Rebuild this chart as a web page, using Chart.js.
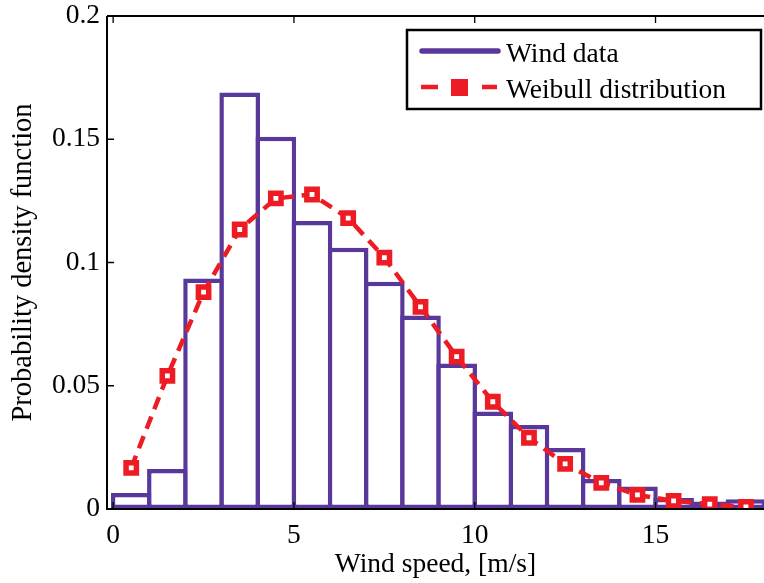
<!DOCTYPE html>
<html>
<head>
<meta charset="utf-8">
<script src="https://cdn.jsdelivr.net/npm/chart.js@4.4.0/dist/chart.umd.min.js"></script>
<style>
  html, body { margin: 0; padding: 0; background: #fff; overflow: hidden; }
  #wrap { width: 764px; height: 583px; position: relative; }
</style>
</head>
<body>
<div id="wrap"><canvas id="chart"></canvas></div>
<script>
'use strict';

// bin centres of the histogram, [m/s]
let binCentres = [0.5, 1.5, 2.5, 3.5, 4.5, 5.5, 6.5, 7.5, 8.5, 9.5, 10.5, 11.5, 12.5, 13.5, 14.5, 15.5, 16.5, 17.5];
// measured wind data (histogram heights)
let windData = [0.0065, 0.0162, 0.0935, 0.169, 0.151, 0.1168, 0.106, 0.0922, 0.0785, 0.059, 0.0396, 0.0341, 0.0247, 0.0122, 0.0091, 0.0045, 0.003, 0.004];
// fitted weibull pdf at the bin centres
let weibullData = [0.0167, 0.054, 0.088, 0.1134, 0.126, 0.1276, 0.118, 0.102, 0.082, 0.0618, 0.0435, 0.0289, 0.0183, 0.0106, 0.0057, 0.0033, 0.002, 0.0008];

let xTicks = [0, 5, 10, 15];
let yTicks = [0, 0.05, 0.1, 0.15, 0.2];

let purple = '#58389a';
let red = '#ed1c24';
let serif = "'Liberation Serif', 'Times New Roman', serif";

Chart.defaults.font.family = serif;
Chart.defaults.color = '#000';

// axes box, inward ticks and the boxed legend (matlab look)
let matlabFrame = {
  id: 'matlabFrame',
  afterDatasetsDraw(chart) {
    let ctx = chart.ctx;
    let a = chart.chartArea;
    let xs = chart.scales.x;
    let ys = chart.scales.y;
    ctx.save();
    ctx.strokeStyle = '#000';
    ctx.lineWidth = 2;
    ctx.beginPath();
    ctx.moveTo(a.left, a.top);
    ctx.lineTo(a.right, a.top);
    ctx.moveTo(a.left, a.top);
    ctx.lineTo(a.left, a.bottom);
    ctx.lineTo(a.right, a.bottom);
    ctx.stroke();

    ctx.lineWidth = 1.3;
    ctx.beginPath();
    xTicks.forEach(function(v) {
      let px = xs.getPixelForValue(v);
      ctx.moveTo(px, a.top);
      ctx.lineTo(px, a.top + 7);
      ctx.moveTo(px, a.bottom);
      ctx.lineTo(px, a.bottom - 7);
    });
    yTicks.forEach(function(v) {
      let py = ys.getPixelForValue(v);
      ctx.moveTo(a.left, py);
      ctx.lineTo(a.left + 7, py);
    });
    ctx.stroke();

    // legend
    let bw = 354, bh = 79;
    let bx = a.right - 3 - bw;
    let by = a.top + 14;
    ctx.fillStyle = '#fff';
    ctx.fillRect(bx, by, bw, bh);
    ctx.lineWidth = 2.5;
    ctx.strokeStyle = '#000';
    ctx.strokeRect(bx, by, bw, bh);

    ctx.lineCap = 'round';
    ctx.strokeStyle = purple;
    ctx.lineWidth = 5.5;
    ctx.beginPath();
    ctx.moveTo(bx + 15, by + 21);
    ctx.lineTo(bx + 91, by + 21);
    ctx.stroke();

    ctx.lineCap = 'butt';
    ctx.strokeStyle = red;
    ctx.lineWidth = 4.5;
    ctx.beginPath();
    ctx.moveTo(bx + 14, by + 57);
    ctx.lineTo(bx + 31, by + 57);
    ctx.moveTo(bx + 75, by + 57);
    ctx.lineTo(bx + 90, by + 57);
    ctx.stroke();
    ctx.fillStyle = red;
    ctx.fillRect(bx + 44, by + 49, 17, 17);

    ctx.fillStyle = '#000';
    ctx.font = '27.5px ' + serif;
    ctx.textBaseline = 'alphabetic';
    ctx.textAlign = 'left';
    ctx.fillText('Wind data', bx + 99, by + 32);
    ctx.fillText('Weibull distribution', bx + 99, by + 68);
    ctx.restore();
  }
};

let chartObj = {
  type: 'bar',
  data: {
    datasets: [
      {
        type: 'line',
        label: 'Weibull distribution',
        data: binCentres.map(function(x, i) { return {x: x, y: weibullData[i]}; }),
        borderColor: red,
        borderWidth: 4.5,
        borderDash: [13, 8],
        pointStyle: 'rect',
        pointRadius: 7.3,
        pointBorderWidth: 5.5,
        pointBorderColor: red,
        pointBackgroundColor: '#fff',
        tension: 0,
        fill: false,
        order: 0
      },
      {
        label: 'Wind data',
        data: binCentres.map(function(x, i) { return {x: x, y: windData[i]}; }),
        backgroundColor: '#fff',
        borderColor: purple,
        borderWidth: 4.5,
        borderSkipped: false,
        categoryPercentage: 1,
        barPercentage: 1.124,
        order: 1
      }
    ]
  },
  options: {
    responsive: true,
    maintainAspectRatio: false,
    animation: false,
    layout: { autoPadding: false, padding: { left: 0, right: 0, top: 16, bottom: 0 } },
    plugins: {
      legend: { display: false },
      tooltip: { enabled: false }
    },
    scales: {
      x: {
        type: 'linear',
        offset: false,
        min: -0.17,
        max: 18,
        grid: { display: false, drawTicks: false },
        border: { display: false },
        afterBuildTicks: function(scale) {
          scale.ticks = xTicks.map(function(v) { return {value: v}; });
        },
        afterFit: function(scale) {
          scale.height = 74;
          scale.paddingLeft = 0;
          scale.paddingRight = 0;
        },
        ticks: {
          padding: 10,
          maxRotation: 0,
          font: { size: 27.5 },
          callback: function(v) { return String(v); }
        },
        title: {
          display: true,
          text: 'Wind speed, [m/s]',
          font: { size: 27.5 },
          padding: { top: 0, bottom: 2 }
        }
      },
      y: {
        min: 0,
        max: 0.2,
        grid: { display: false, drawTicks: false },
        border: { display: false },
        afterBuildTicks: function(scale) {
          scale.ticks = yTicks.map(function(v) { return {value: v}; });
        },
        afterFit: function(scale) {
          scale.width = 107;
          scale.paddingTop = 0;
          scale.paddingBottom = 0;
        },
        ticks: {
          padding: 7,
          font: { size: 27.5 },
          callback: function(v) { return String(v); }
        },
        title: {
          display: true,
          text: 'Probability density function',
          font: { size: 28.5 },
          padding: { top: 6, bottom: 0 }
        }
      }
    }
  },
  plugins: [matlabFrame]
};

new Chart(document.getElementById('chart'), chartObj);
</script>
</body>
</html>
